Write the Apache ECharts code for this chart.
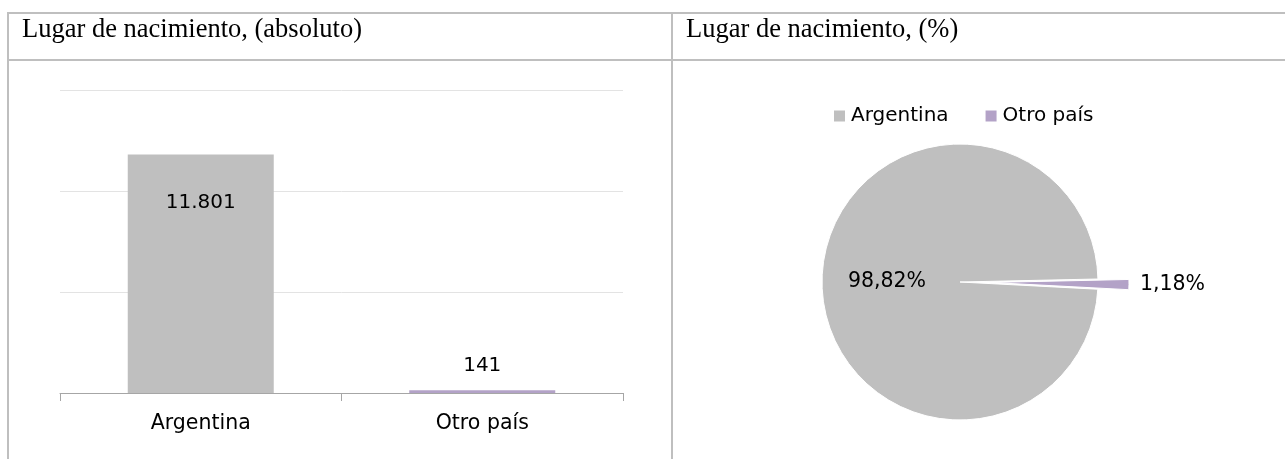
<!DOCTYPE html>
<html>
<head>
<meta charset="utf-8">
<script src="https://cdn.jsdelivr.net/npm/echarts@6/dist/echarts.min.js"></script>
<style>
  html, body { margin: 0; padding: 0; background: #fff; }
  #chart { width: 1285px; height: 459px; }
</style>
</head>
<body>
<div id="chart"></div>
<script>
// data
var categories = ['Argentina', 'Otro país'];
var absValues = [11801, 141];          // Lugar de nacimiento, (absoluto)
var pctValues = [98.82, 1.18];         // Lugar de nacimiento, (%)
var colors = ['#bfbfbf', '#b3a2c7'];
var yMin = 0, yMax = 15000, yStep = 5000;

var FONT = 'DejaVu Sans';
var border = '#bfbfbf';

function fmtAbs(v) {
    return String(v).replace(/\B(?=(\d{3})+(?!\d))/g, '.');
}
function fmtPct(v) {
    return v.toFixed(2).replace('.', ',') + '%';
}

var dom = document.getElementById('chart');
var myChart = echarts.init(dom, null, { renderer: 'canvas' });

/************************        table frame (two cells)        **************************/
function hline(y) {
    return { type: 'line', shape: { x1: 8, y1: y, x2: 1285, y2: y }, style: { stroke: border, lineWidth: 2 }, silent: true };
}
function vline(x) {
    return { type: 'line', shape: { x1: x, y1: 12, x2: x, y2: 459 }, style: { stroke: border, lineWidth: 2 }, silent: true };
}

var option = {
    animation: false,
    textStyle: { fontFamily: FONT },
    graphic: [hline(13), hline(60), vline(8), vline(672)],
    title: [
        {
            text: 'Lugar de nacimiento, (absoluto)',
            left: 22, top: 17, padding: 0,
            textStyle: { fontFamily: 'Liberation Serif', fontSize: 26.5, fontWeight: 'normal', color: '#000' }
        },
        {
            text: 'Lugar de nacimiento, (%)',
            left: 686, top: 17, padding: 0,
            textStyle: { fontFamily: 'Liberation Serif', fontSize: 26.5, fontWeight: 'normal', color: '#000' }
        }
    ],
    legend: {
        data: categories,
        left: 829, top: 101,
        icon: 'rect', itemWidth: 11, itemHeight: 11, itemGap: 37,
        itemStyle: { borderWidth: 0 },
        textStyle: { fontFamily: FONT, fontSize: 20, color: '#000', padding: [0, 0, 0, 1] }
    },
    grid: { left: 60, right: 662, top: 90, bottom: 66 },
    xAxis: {
        type: 'category',
        data: categories,
        axisLine: { lineStyle: { color: '#a6a6a6', width: 1 } },
        axisTick: { show: true, length: 8, alignWithLabel: false, lineStyle: { color: '#a6a6a6' } },
        axisLabel: { fontFamily: FONT, fontSize: 20.5, color: '#000', margin: 20 }
    },
    yAxis: {
        type: 'value',
        min: yMin, max: yMax, interval: yStep,
        axisLabel: { show: false },
        axisLine: { show: false },
        axisTick: { show: false },
        splitLine: { lineStyle: { color: '#e3e3e3', width: 1 } }
    },
    series: [
        {
            type: 'bar',
            barWidth: 146,
            silent: true,
            data: [
                {
                    value: absValues[0],
                    itemStyle: { color: colors[0] },
                    label: { show: true, position: 'insideTop', distance: 38 }
                },
                {
                    value: absValues[1],
                    itemStyle: { color: colors[1] },
                    label: { show: true, position: 'top', distance: 14 }
                }
            ],
            label: {
                fontFamily: FONT, fontSize: 20, color: '#000',
                formatter: function (p) { return fmtAbs(p.value); }
            }
        },
        {
            type: 'pie',
            center: [960, 282],
            radius: 138,
            startAngle: -3,
            clockwise: true,
            selectedMode: 'single',
            selectedOffset: 31,
            emphasis: { disabled: true },
            labelLine: { show: false, length: 6, length2: 0 },
            label: {
                fontFamily: FONT, fontSize: 20.5, color: '#000',
                formatter: function (p) { return fmtPct(p.value); }
            },
            itemStyle: { borderColor: '#fff', borderWidth: 1 },
            data: [
                {
                    name: categories[0], value: pctValues[0],
                    itemStyle: { color: colors[0] },
                    label: { position: 'inside', offset: [-1, 1] }
                },
                {
                    name: categories[1], value: pctValues[1],
                    itemStyle: { color: colors[1] },
                    selected: true,
                    label: { position: 'outside' }
                }
            ]
        }
    ]
};

myChart.setOption(option);
</script>
</body>
</html>
